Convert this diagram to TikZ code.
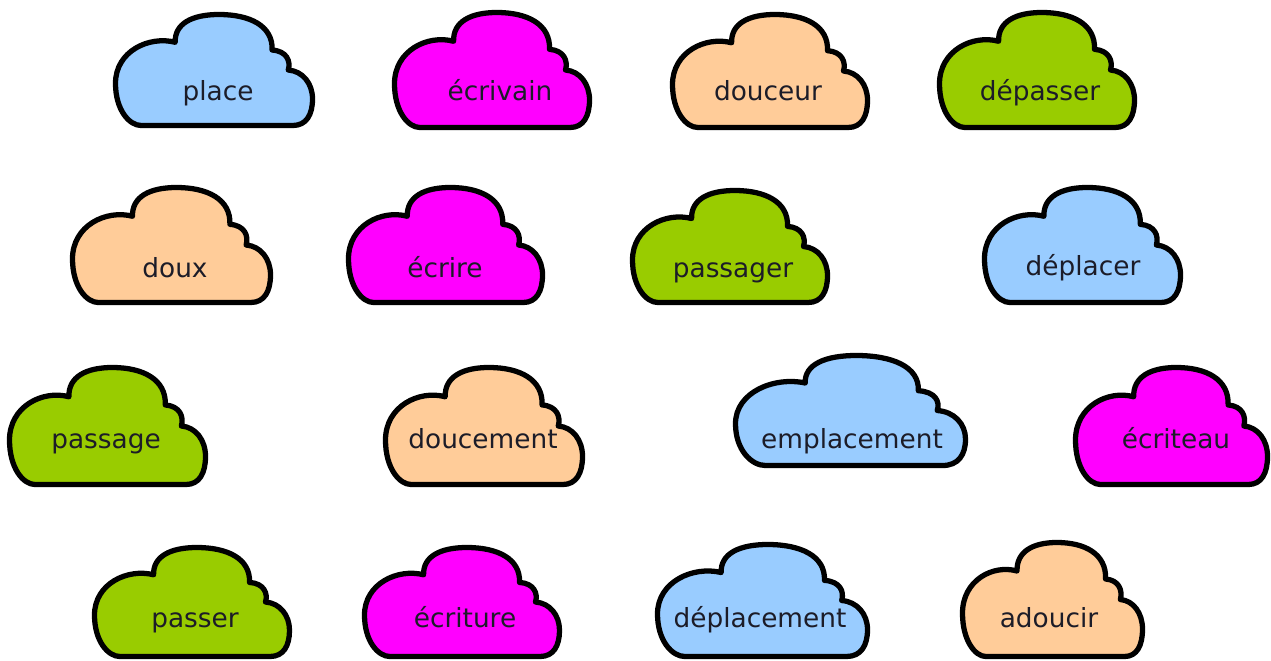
\documentclass[tikz,border=0pt]{standalone}
\usepackage{fontspec}
\setmainfont{DejaVu Sans}
\definecolor{cblue}{RGB}{153,204,255}
\definecolor{cmag}{RGB}{255,0,255}
\definecolor{cpeach}{RGB}{255,204,153}
\definecolor{cgreen}{RGB}{153,204,0}
\definecolor{ctext}{RGB}{28,28,40}
\tikzset{
  cloudline/.style={draw=black,line width=3pt,line join=round},
  lbl/.style={text=ctext,inner sep=0pt,anchor=base,font=\fontsize{15}{17}\selectfont}
}
\newcommand\mycloud[9]{%
  \pgfmathsetmacro\cw{(#3-#1-5)*0.02}%
  \pgfmathsetmacro\ch{(#4-#2-5)*0.02}%
  \begin{scope}[shift={(#1+2.5,#2+2.5)},x={(\cw cm,0cm)},y={(0cm,-\ch cm)}]
    \draw[cloudline,fill=#5] (0.13,1) -- (0.9,1)
      .. controls (0.97,1) and (1,0.9) .. (1,0.76)
      .. controls (1,0.62) and (0.95,0.51) .. (0.877,0.50)
      .. controls (0.89,0.42) and (0.87,0.33) .. (0.795,0.32)
      .. controls (0.80,0.10) and (0.68,0) .. (0.525,0)
      .. controls (0.39,0) and (0.30,0.08) .. (0.303,0.25)
      .. controls (0.17,0.19) and (0,0.33) .. (0,0.62)
      .. controls (0,0.86) and (0.07,1) .. (0.13,1) -- cycle;
  \end{scope}
  \node[lbl] (#6) at (#7,#8+10) {#9};
}
\begin{document}
\begin{tikzpicture}[x=0.02cm,y=-0.02cm]
\useasboundingbox[fill=white] (0,0) rectangle (1271,660);
\mycloud{113}{12}{315}{128}{cblue}{place}{218}{90}{place}
\mycloud{392}{10}{592}{130}{cmag}{ecrivain}{500}{90}{écrivain}
\mycloud{670}{12}{870}{130}{cpeach}{douceur}{768}{90}{douceur}
\mycloud{937}{10}{1137}{130}{cgreen}{depasser}{1040}{90}{dépasser}
\mycloud{70}{185}{273}{305}{cpeach}{doux}{175}{267}{doux}
\mycloud{346}{185}{545}{305}{cmag}{ecrire}{445}{267}{écrire}
\mycloud{630}{188}{830}{305}{cgreen}{passager}{733}{267}{passager}
\mycloud{982}{185}{1183}{305}{cblue}{deplacer}{1083}{265}{déplacer}
\mycloud{7}{365}{208}{487}{cgreen}{passage}{106}{438}{passage}
\mycloud{383}{365}{585}{487}{cpeach}{doucement}{483}{438}{doucement}
\mycloud{733}{353}{968}{468}{cblue}{emplacement}{852}{438}{emplacement}
\mycloud{1073}{365}{1270}{487}{cmag}{ecriteau}{1176}{438}{écriteau}
\mycloud{92}{545}{292}{659}{cgreen}{passer}{195}{617}{passer}
\mycloud{362}{545}{562}{659}{cmag}{ecriture}{465}{617}{écriture}
\mycloud{655}{542}{870}{659}{cblue}{deplacement}{760}{617}{déplacement}
\mycloud{960}{540}{1145}{659}{cpeach}{adoucir}{1049}{617}{adoucir}
\end{tikzpicture}
\end{document}
